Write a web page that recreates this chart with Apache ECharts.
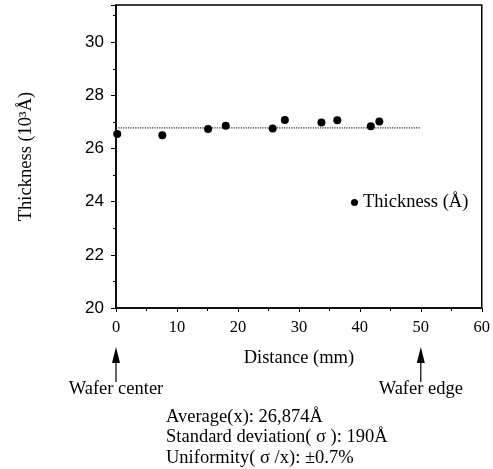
<!DOCTYPE html>
<html>
<head>
<meta charset="utf-8">
<script src="https://cdn.jsdelivr.net/npm/echarts@6/dist/echarts.min.js"></script>
<style>
  html, body { margin: 0; padding: 0; background: #fff; }
  #chart { width: 493px; height: 469px; }
</style>
</head>
<body>
<div id="chart"></div>
<script>
// measured points (distance from wafer center, thickness in 10^3 A)
const distance = [0.2, 7.6, 15.1, 18.0, 25.7, 27.7, 33.7, 36.3, 41.8, 43.2];
const thickness = [26.55, 26.50, 26.73, 26.86, 26.75, 27.07, 26.98, 27.06, 26.84, 27.02];

// average line
const fitX = [0, 50];
const fitY = [26.78, 26.78];

const markerX = [0, 50];
const markerLabels = ['Wafer center', 'Wafer edge'];

const statLines = [
  'Average(x): 26,874Å',
  'Standard deviation( σ ): 190Å',
  'Uniformity( σ /x): ±0.7%'
];

const serif = '"Liberation Serif", "DejaVu Serif", serif';
const sans = '"Liberation Sans", Arial, sans-serif';

const chart = echarts.init(document.getElementById('chart'));

const option = {
  animation: false,
  backgroundColor: '#fff',
  grid: {
    left: 116,
    right: 11,
    top: 5,
    bottom: 161,
    show: true,
    borderColor: '#000',
    borderWidth: 1.5
  },
  legend: {
    data: ['Thickness (Å)'],
    left: 346,
    top: 188,
    icon: 'circle',
    itemWidth: 7,
    itemHeight: 7,
    itemGap: 4,
    textStyle: { fontFamily: serif, fontSize: 18.5, color: '#000' }
  },
  xAxis: {
    type: 'value',
    min: 0,
    max: 60,
    interval: 10,
    name: 'Distance (mm)',
    nameLocation: 'middle',
    nameGap: 41,
    nameTextStyle: { fontFamily: serif, fontSize: 18.5, color: '#000' },
    axisLine: { lineStyle: { color: '#000', width: 1.5 } },
    axisTick: { inside: false, length: 4, lineStyle: { color: '#000' } },
    minorTick: { show: true, splitNumber: 2, length: 3, lineStyle: { color: '#000' } },
    axisLabel: { fontFamily: serif, fontSize: 16.5, color: '#000', margin: 11 },
    splitLine: { show: false }
  },
  yAxis: {
    type: 'value',
    min: 20,
    max: 31.4,
    interval: 2,
    name: 'Thickness (10³Å)',
    nameLocation: 'middle',
    nameGap: 80,
    nameTextStyle: { fontFamily: serif, fontSize: 18.5, color: '#000' },
    axisLine: { show: true, lineStyle: { color: '#000', width: 1.5 } },
    axisTick: { inside: false, length: 5, lineStyle: { color: '#000' } },
    minorTick: { show: true, splitNumber: 2, length: 3, lineStyle: { color: '#000' } },
    axisLabel: {
      fontFamily: sans, fontSize: 17, color: '#000', margin: 12,
      showMaxLabel: false,
      formatter: v => (Number.isInteger(v) ? String(v) : '')
    },
    splitLine: { show: false }
  },
  series: [
    {
      name: 'Average',
      type: 'line',
      data: fitX.map((x, i) => [x, fitY[i]]),
      symbol: 'none',
      lineStyle: { color: '#333', width: 1.2, type: 'dotted' },
      z: 1
    },
    {
      name: 'Thickness (Å)',
      type: 'scatter',
      data: distance.map((x, i) => [x, thickness[i]]),
      symbol: 'circle',
      symbolSize: 8,
      itemStyle: { color: '#000', opacity: 1 },
      z: 3
    }
  ]
};

chart.setOption(option);

// annotations below the x axis, placed through the axis scale
const graphics = [];
markerX.forEach((x, i) => {
  const p = chart.convertToPixel({ gridIndex: 0 }, [x, 20]);
  const tipY = p[1] + 39;
  graphics.push({
    type: 'polygon',
    shape: { points: [[p[0], tipY], [p[0] - 4, tipY + 16], [p[0] + 4, tipY + 16]] },
    style: { fill: '#000' }
  });
  graphics.push({
    type: 'line',
    shape: { x1: p[0], y1: tipY + 16, x2: p[0], y2: tipY + 35 },
    style: { stroke: '#000', lineWidth: 1.2 }
  });
  graphics.push({
    type: 'text',
    x: p[0],
    y: tipY + 42,
    style: {
      text: markerLabels[i],
      fontFamily: serif,
      fontSize: 18.5,
      fill: '#000',
      align: 'center',
      verticalAlign: 'middle'
    }
  });
});

statLines.forEach((t, i) => {
  graphics.push({
    type: 'text',
    x: 166,
    y: 417 + i * 20.5,
    style: {
      text: t,
      fontFamily: serif,
      fontSize: 18.5,
      fill: '#000',
      align: 'left',
      verticalAlign: 'middle'
    }
  });
});

chart.setOption({ graphic: graphics });
</script>
</body>
</html>
